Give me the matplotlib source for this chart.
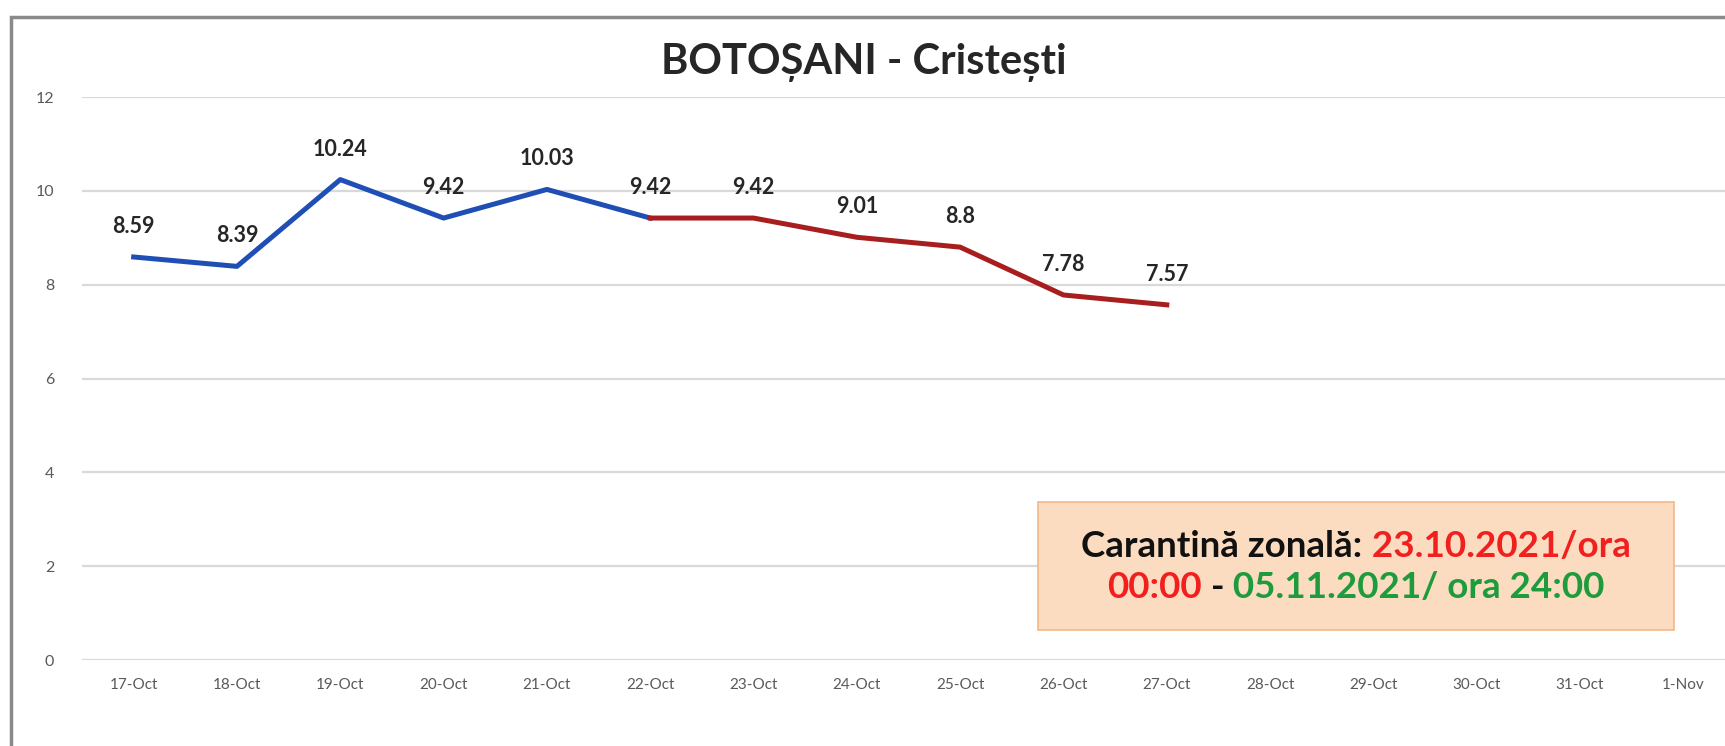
import matplotlib
matplotlib.use("Agg")
import matplotlib.pyplot as plt
from matplotlib.patches import Rectangle
from matplotlib.offsetbox import TextArea, HPacker, VPacker, AnnotationBbox

plt.rcParams['font.family'] = ['Lato', 'DejaVu Sans']

categories = ["17-Oct", "18-Oct", "19-Oct", "20-Oct", "21-Oct", "22-Oct", "23-Oct", "24-Oct",
              "25-Oct", "26-Oct", "27-Oct", "28-Oct", "29-Oct", "30-Oct", "31-Oct", "1-Nov"]
before_values = [8.59, 8.39, 10.24, 9.42, 10.03, 9.42]          # 17-Oct .. 22-Oct
after_values = [9.42, 9.42, 9.01, 8.8, 7.78, 7.57]              # 22-Oct .. 27-Oct
label_values = [8.59, 8.39, 10.24, 9.42, 10.03, 9.42, 9.42, 9.01, 8.8, 7.78, 7.57]
yticks = [0, 2, 4, 6, 8, 10, 12]
title = "BOTOȘANI - Cristești"

W, H = 1725, 746
fig = plt.figure(figsize=(W / 100, H / 100), dpi=100)
fig.patch.set_facecolor("white")

# outer border (cropped on the right and bottom)
fig.add_artist(Rectangle((11 / W, -0.2), 1.2, 1 - 17 / H + 0.2, transform=fig.transFigure,
                         facecolor="none", edgecolor="#8a8a8a", lw=2.5, clip_on=False))

ax = fig.add_axes([82 / W, 86 / H, 1653 / W, 563 / H])
ax.set_xlim(-0.5, len(categories) - 0.5)
ax.set_ylim(0, 12)

x_before = list(range(len(before_values)))
x_after = list(range(len(before_values) - 1, len(before_values) - 1 + len(after_values)))
ax.plot(x_before, before_values, color="#1f4fb4", lw=3.6, solid_joinstyle="round", zorder=3)
ax.plot(x_after, after_values, color="#a81e1e", lw=3.6, solid_joinstyle="round", zorder=3)

for i, v in enumerate(label_values):
    ax.annotate(f"{v:g}", (i, v), xytext=(0, 22), textcoords="offset points",
                ha="center", va="center", fontsize=15.5, fontweight="bold", color="#262626")

ax.set_xticks(range(len(categories)))
ax.set_xticklabels(categories, fontsize=11, color="#595959")
ax.set_yticks(yticks)
ax.set_yticklabels([str(t) for t in yticks], fontsize=11.5, color="#595959")
ax.tick_params(axis="both", length=0)
ax.tick_params(axis="x", pad=13)
ax.tick_params(axis="y", pad=20)
ax.yaxis.grid(True, color="#d9d9d9", lw=1.6)
ax.set_axisbelow(True)
for s in ax.spines.values():
    s.set_visible(False)

fig.text(864 / W, 1 - 63 / H, title, ha="center", va="center", fontsize=30,
         fontweight="bold", color="#262626")

# annotation box
fig.add_artist(Rectangle((1038 / W, 1 - 630 / H), 636 / W, 128 / H, transform=fig.transFigure,
                         facecolor="#fbdcc0", edgecolor="#f2b889", lw=1.2, zorder=5))


def ta(s, c):
    return TextArea(s, textprops=dict(color=c, fontsize=26.5, fontweight="bold", family="Lato"))


black, red, green = "#111111", "#f21f1f", "#1e9b3c"
line1 = HPacker(children=[ta("Carantină zonală:", black), ta(" 23.10.2021/ora", red)],
                align="baseline", pad=0, sep=0)
line2 = HPacker(children=[ta("00:00", red), ta(" -", black), ta(" 05.11.2021/ ora 24:00", green)],
                align="baseline", pad=0, sep=0)
vbox = VPacker(children=[line1, line2], align="center", pad=0, sep=6)
ab = AnnotationBbox(vbox, (1356 / W, 1 - 567 / H), xycoords="figure fraction",
                    frameon=False, box_alignment=(0.5, 0.5), zorder=6)
fig.add_artist(ab)

fig.savefig("out.png", dpi=100)
